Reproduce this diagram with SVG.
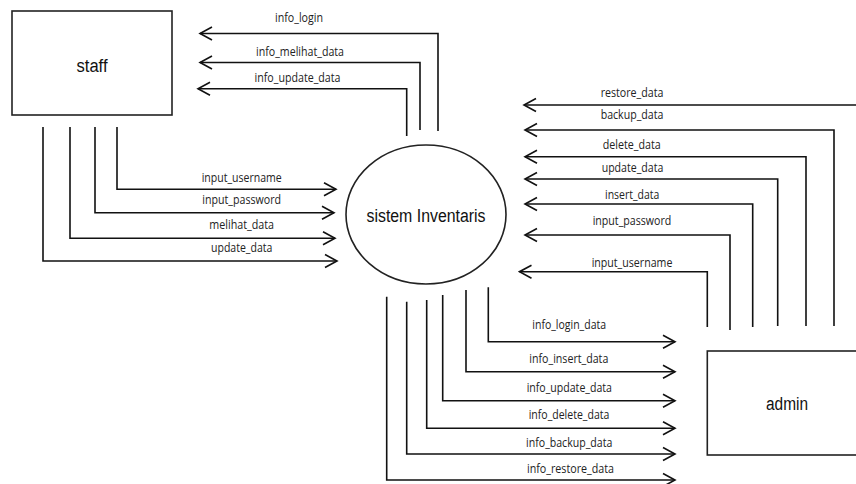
<svg xmlns="http://www.w3.org/2000/svg" width="856" height="484" viewBox="0 0 856 484">
<style>
.box{fill:#fff;stroke:#222;stroke-width:1.6}
.node{font-family:"Liberation Sans",Arial,sans-serif;font-size:18px;fill:#111;text-anchor:middle}
.flow{fill:none;stroke:#111;stroke-width:1.6;marker-end:url(#arr)}
.lbl{font-family:"Open Sans","Noto Sans",sans-serif;font-size:12px;fill:#222;text-anchor:middle}
</style>
<defs>
<marker id="arr" markerUnits="userSpaceOnUse" markerWidth="16" markerHeight="16" viewBox="-14 -8 16 16" refX="0" refY="0" orient="auto">
<path d="M-12,-6.5 L0,0 L-12,6.5" fill="none" stroke="#111" stroke-width="1.6"/>
</marker>
</defs>
<rect width="856" height="484" fill="#fff"/>
<g id="staff">
<rect class="box" x="12" y="11" width="160" height="104"/>
<text class="node" x="92" y="72" textLength="31" lengthAdjust="spacingAndGlyphs">staff</text>
</g>
<g id="sistem-inventaris">
<ellipse class="box" cx="426" cy="214.5" rx="80" ry="69.5"/>
<text class="node" x="426" y="222" textLength="119" lengthAdjust="spacingAndGlyphs">sistem Inventaris</text>
</g>
<g id="admin">
<rect class="box" x="707.3" y="351" width="160" height="104"/>
<text class="node" x="787" y="410" textLength="42" lengthAdjust="spacingAndGlyphs">admin</text>
</g>
<g id="connectors">
<path class="flow" d="M438,131 V33.5 H200"/>
<path class="flow" d="M420,130 V62.5 H200"/>
<path class="flow" d="M406.7,136 V88.7 H198"/>
<path class="flow" d="M117,127 V189.3 H336"/>
<path class="flow" d="M95,127 V212.7 H334"/>
<path class="flow" d="M70,127 V238.3 H335"/>
<path class="flow" d="M43,127 V261 H337"/>
<path class="flow" d="M858,105 H524"/>
<path class="flow" d="M834,326 V130 H525"/>
<path class="flow" d="M806,326 V156.7 H525"/>
<path class="flow" d="M777.7,326 V179 H525"/>
<path class="flow" d="M752.7,327 V204 H525"/>
<path class="flow" d="M730,330 V235 H525"/>
<path class="flow" d="M707.3,327 V271.7 H519.5"/>
<path class="flow" d="M488.3,287.3 V341.7 H675"/>
<path class="flow" d="M466,290 V371.7 H675"/>
<path class="flow" d="M442.7,295 V400.7 H675"/>
<path class="flow" d="M426.7,300 V428.3 H675"/>
<path class="flow" d="M406.7,301.7 V454 H675"/>
<path class="flow" d="M386.7,296.7 V480 H675"/>
</g>
<g id="labels">
<text class="lbl" x="299" y="22" textLength="48" lengthAdjust="spacingAndGlyphs">info_login</text>
<text class="lbl" x="300" y="55.7" textLength="88" lengthAdjust="spacingAndGlyphs">info_melihat_data</text>
<text class="lbl" x="297.5" y="81.7" textLength="86" lengthAdjust="spacingAndGlyphs">info_update_data</text>
<text class="lbl" x="241.7" y="181.7" textLength="80" lengthAdjust="spacingAndGlyphs">input_username</text>
<text class="lbl" x="241.7" y="204" textLength="78.7" lengthAdjust="spacingAndGlyphs">input_password</text>
<text class="lbl" x="241.7" y="229" textLength="64.7" lengthAdjust="spacingAndGlyphs">melihat_data</text>
<text class="lbl" x="241.7" y="252.3" textLength="61.3" lengthAdjust="spacingAndGlyphs">update_data</text>
<text class="lbl" x="632" y="96.7" textLength="62.7" lengthAdjust="spacingAndGlyphs">restore_data</text>
<text class="lbl" x="632" y="119" textLength="62.7" lengthAdjust="spacingAndGlyphs">backup_data</text>
<text class="lbl" x="631.7" y="149" textLength="58" lengthAdjust="spacingAndGlyphs">delete_data</text>
<text class="lbl" x="632.5" y="171.7" textLength="61.7" lengthAdjust="spacingAndGlyphs">update_data</text>
<text class="lbl" x="632.2" y="199" textLength="54.3" lengthAdjust="spacingAndGlyphs">insert_data</text>
<text class="lbl" x="632" y="225" textLength="78.7" lengthAdjust="spacingAndGlyphs">input_password</text>
<text class="lbl" x="632" y="267.3" textLength="80.7" lengthAdjust="spacingAndGlyphs">input_username</text>
<text class="lbl" x="569.2" y="329.3" textLength="73.7" lengthAdjust="spacingAndGlyphs">info_login_data</text>
<text class="lbl" x="568.8" y="363.3" textLength="79" lengthAdjust="spacingAndGlyphs">info_insert_data</text>
<text class="lbl" x="569.3" y="391.7" textLength="85.3" lengthAdjust="spacingAndGlyphs">info_update_data</text>
<text class="lbl" x="569" y="419.3" textLength="80.7" lengthAdjust="spacingAndGlyphs">info_delete_data</text>
<text class="lbl" x="569.2" y="446.7" textLength="86.3" lengthAdjust="spacingAndGlyphs">info_backup_data</text>
<text class="lbl" x="570.5" y="473.3" textLength="87" lengthAdjust="spacingAndGlyphs">info_restore_data</text>
</g>
</svg>
